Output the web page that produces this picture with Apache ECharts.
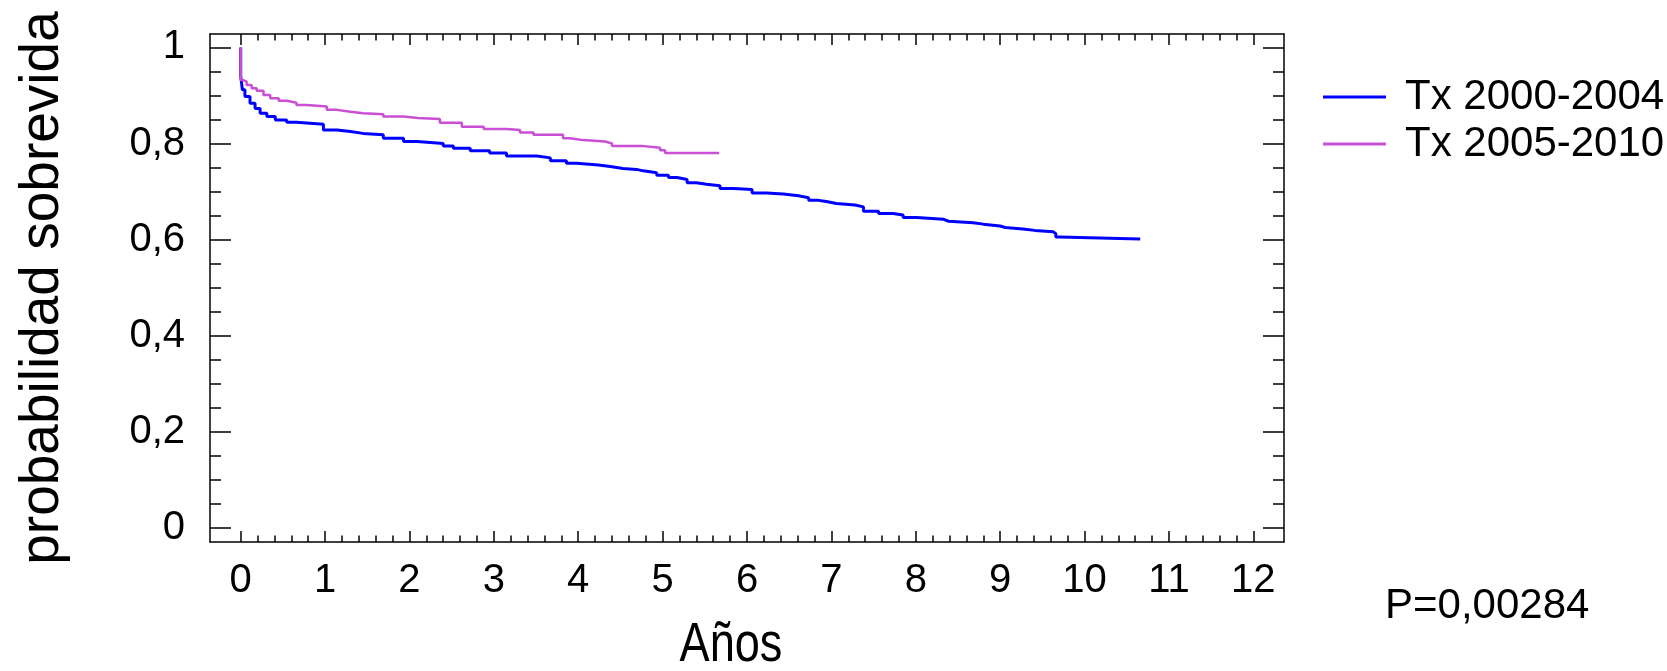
<!DOCTYPE html>
<html>
<head>
<meta charset="utf-8">
<script src="https://cdn.jsdelivr.net/npm/echarts@6/dist/echarts.min.js"></script>
<style>html,body{margin:0;padding:0;background:#fff}#c{width:1667px;height:671px}</style>
</head>
<body>
<div id="c"></div>
<script>
// ---- data ----
const seriesNames = ['Tx 2000-2004', 'Tx 2005-2010'];
const timesA = [0,0,0.02,0.05,0.11,0.17,0.23,0.31,0.41,0.545,0.66,0.98,1.14,1.30,1.45,1.69,1.93,2.09,2.40,2.52,2.72,2.95,3.15,3.51,3.67,3.86,3.98,4.24,4.38,4.53,4.69,4.77,4.93,5.07,5.17,5.29,5.40,5.52,5.68,5.84,6.06,6.23,6.43,6.61,6.73,6.83,6.94,7.06,7.28,7.38,7.56,7.73,7.85,8.01,8.33,8.39,8.68,8.80,9.00,9.06,9.27,9.41,9.63,9.66,9.70,10.66];
const survA  = [1,0.94,0.912,0.898,0.884,0.873,0.863,0.856,0.849,0.844,0.840,0.828,0.825,0.821,0.818,0.811,0.804,0.800,0.795,0.790,0.785,0.780,0.774,0.770,0.764,0.759,0.755,0.752,0.748,0.746,0.743,0.739,0.734,0.729,0.725,0.718,0.715,0.712,0.706,0.704,0.697,0.695,0.691,0.687,0.682,0.679,0.675,0.672,0.668,0.659,0.654,0.651,0.646,0.642,0.638,0.635,0.632,0.628,0.625,0.622,0.619,0.616,0.612,0.605,0.601,0.601];
const timesB = [0,0,0.03,0.07,0.13,0.19,0.27,0.35,0.45,0.545,0.66,0.78,1.02,1.14,1.30,1.45,1.69,1.93,2.10,2.36,2.62,2.88,3.15,3.31,3.47,3.82,3.90,4.06,4.32,4.40,4.75,4.97,5.03,5.67];
const survB  = [1,0.932,0.929,0.922,0.915,0.910,0.901,0.894,0.889,0.885,0.880,0.877,0.870,0.866,0.863,0.861,0.856,0.853,0.851,0.843,0.835,0.830,0.828,0.823,0.818,0.811,0.807,0.804,0.800,0.795,0.791,0.786,0.780,0.780];
const xMajorTicks = [0,1,2,3,4,5,6,7,8,9,10,11,12];
const yMajorTicks = [0,0.2,0.4,0.6,0.8,1];
const pText = 'P=0,00284';
const xTitle = 'Años';
const yTitle = 'probabilidad sobrevida';

// ---- minor tick positions ----
const xMinorTicks = [];
for (let i = 0; i < 12; i++) for (let k = 1; k < 5; k++) xMinorTicks.push(+(i + k * 0.2).toFixed(2));
const yMinorTicks = [];
for (let i = 0; i < 5; i++) for (let k = 1; k < 4; k++) yMinorTicks.push(+(i * 0.2 + k * 0.05).toFixed(2));

const FONT = '"Liberation Sans", Arial, Helvetica, sans-serif';
const X_MIN = -0.364, X_MAX = 12.364, Y_MIN = -0.03, Y_MAX = 1.028;
const lineSty = { color: '#000', width: 1.5 };
const gridPos = { left: 210, right: 383, top: 34, bottom: 129 };

function xAx(grid, pos, ticks, len, line, labels, extra) {
  return Object.assign({
    gridIndex: grid, type: 'value', position: pos, min: X_MIN, max: X_MAX,
    axisLine: { show: line, onZero: false, lineStyle: lineSty },
    axisTick: { show: true, inside: true, length: len, customValues: ticks, lineStyle: lineSty },
    axisLabel: labels ? { show: true, customValues: ticks, fontSize: 40, fontFamily: FONT, color: '#000', margin: 19 } : { show: false },
    splitLine: { show: false }
  }, extra || {});
}
function yAx(grid, pos, ticks, len, line, labels, extra) {
  return Object.assign({
    gridIndex: grid, type: 'value', position: pos, min: Y_MIN, max: Y_MAX,
    axisLine: { show: line, onZero: false, lineStyle: lineSty },
    axisTick: { show: true, inside: true, length: len, customValues: ticks, lineStyle: lineSty },
    axisLabel: labels ? { show: true, customValues: ticks, fontSize: 40, fontFamily: FONT, color: '#000', margin: 25,
      formatter: v => (v === 0 ? '0' : v === 1 ? '1' : v.toFixed(1).replace('.', ',')) } : { show: false },
    splitLine: { show: false }
  }, extra || {});
}

const chart = echarts.init(document.getElementById('c'), null, { renderer: 'canvas' });
chart.setOption({
  backgroundColor: '#fff',
  animation: false,
  grid: [Object.assign({}, gridPos), Object.assign({}, gridPos)],
  xAxis: [
    xAx(0, 'bottom', xMajorTicks, 11, true, true),
    xAx(0, 'top', xMajorTicks, 11, true, false),
    xAx(1, 'bottom', xMinorTicks, 6.5, false, false),
    xAx(1, 'top', xMinorTicks, 6.5, false, false)
  ],
  yAxis: [
    yAx(0, 'left', yMajorTicks, 21, true, true, {
      name: yTitle, nameLocation: 'middle', nameGap: 140,
      nameTextStyle: { fontSize: 55, fontFamily: FONT, color: '#000' }
    }),
    yAx(0, 'right', yMajorTicks, 21, true, false),
    yAx(1, 'left', yMinorTicks, 11, false, false),
    yAx(1, 'right', yMinorTicks, 11, false, false)
  ],
  legend: {
    orient: 'vertical', left: 1323, top: 76, padding: 0, itemGap: 5,
    itemWidth: 63, itemHeight: 3, icon: 'rect',
    textStyle: { fontSize: 42, fontFamily: FONT, color: '#000', lineHeight: 42, padding: [0, 0, 0, 14] },
    data: seriesNames
  },
  series: [
    { name: seriesNames[0], type: 'line', xAxisIndex: 0, yAxisIndex: 0, step: 'end', symbol: 'none',
      lineStyle: { color: '#0000ff', width: 3 }, itemStyle: { color: '#0000ff' },
      data: timesA.map((t, i) => [t, survA[i]]) },
    { name: seriesNames[1], type: 'line', xAxisIndex: 0, yAxisIndex: 0, step: 'end', symbol: 'none',
      lineStyle: { color: '#c94fd4', width: 2.5 }, itemStyle: { color: '#c94fd4' },
      data: timesB.map((t, i) => [t, survB[i]]) }
  ],
  graphic: [
    { type: 'text', left: 1385, top: 585,
      style: { text: pText, fontSize: 42, fontFamily: FONT, fill: '#000' } },
    { type: 'text', x: 731, y: 646, scaleX: 0.82,
      style: { text: xTitle, fontSize: 55, fontFamily: FONT, fill: '#000', align: 'center', verticalAlign: 'middle' } }
  ]
});
</script>
</body>
</html>
